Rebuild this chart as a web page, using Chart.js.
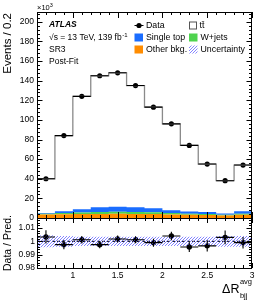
<!DOCTYPE html>
<html>
<head>
<meta charset="utf-8">
<script src="https://cdn.jsdelivr.net/npm/chart.js@4.4.1/dist/chart.umd.min.js"></script>
<style>
  html, body { margin: 0; padding: 0; background: #fff; }
  canvas { display: block; }
</style>
</head>
<body>
<canvas id="chart" width="266" height="300"></canvas>
<script>
// Delta R (avg, bjj) bins, width 0.2
const binEdges = [0.6, 0.8, 1.0, 1.2, 1.4, 1.6, 1.8, 2.0, 2.2, 2.4, 2.6, 2.8, 3.0];

// Events / 0.2, in units of 10^3
const dataCounts = [40, 84, 124, 145, 148, 135, 113, 96, 74, 55, 38, 54];
const dataErr    = [0.2, 0.29, 0.35, 0.38, 0.38, 0.37, 0.34, 0.31, 0.27, 0.23, 0.19, 0.23];
const ttbar      = [35, 77, 115, 134, 136.5, 124, 103, 88, 67.5, 49, 33.5, 47];
const singleTop  = [0.7, 2, 3.5, 5, 5.2, 4.8, 4.2, 2.9, 2.1, 2, 1.1, 2.6];
const wJets      = [0.8, 1.2, 1.5, 1.8, 2, 2, 1.8, 1.5, 1.2, 1, 0.8, 1.2];
const otherBkg   = [3.5, 3.8, 4, 4.2, 4.3, 4.2, 4, 3.6, 3.2, 3, 2.6, 3.2];

// Data / Pred.
const ratio     = [1.0033, 0.9975, 1.0012, 0.9975, 1.0017, 1.0012, 0.999, 1.004, 0.9957, 0.9966, 1.003, 0.999];
const ratioErr  = [0.005, 0.0035, 0.0028, 0.0026, 0.0026, 0.0027, 0.003, 0.0032, 0.0037, 0.0043, 0.0051, 0.0043];
const uncHalf   = [0.0045, 0.004, 0.0035, 0.0035, 0.0035, 0.0035, 0.0035, 0.0035, 0.0035, 0.0035, 0.004, 0.004];

const xTicks      = [1, 1.5, 2, 2.5, 3];
const yMainTicks  = [0, 20, 40, 60, 80, 100, 120, 140, 160, 180, 200];
const yRatioTicks = [0.98, 0.99, 1, 1.01];

const FONT = '"Liberation Sans", Arial, Helvetica, sans-serif';
const C_ORANGE = '#ff8c00';
const C_GREEN = '#4fd34f';
const C_BLUE = '#1a6dff';
const C_HATCH = '#6464ff';

function font(size, style) {
  return (style ? style + ' ' : '') + size + 'px ' + FONT;
}

// step histogram points at the left bin edges (+ closing right edge), drawn with stepped: 'before'
function steps(vals) {
  return binEdges.map((x, i) => ({ x, y: vals[Math.min(i, vals.length - 1)] }));
}

function addArr(a, b) {
  return a.map((v, i) => v + b[i]);
}

const cumOther = otherBkg;
const cumW = addArr(cumOther, wJets);
const cumTop = addArr(cumW, singleTop);
const cumTotal = addArr(cumTop, ttbar);

const centers = dataCounts.map((v, i) => (binEdges[i] + binEdges[i + 1]) / 2);

function makeHatch() {
  const c = document.createElement('canvas');
  c.width = 3; c.height = 3;
  const g = c.getContext('2d');
  g.strokeStyle = C_HATCH;
  g.lineWidth = 0.8;
  g.beginPath();
  g.moveTo(0, 3); g.lineTo(3, 0);
  g.moveTo(-1, 1); g.lineTo(1, -1);
  g.moveTo(2, 4); g.lineTo(4, 2);
  g.stroke();
  return g.createPattern(c, 'repeat');
}
const hatch = makeHatch();

function bkgFill(vals, color, fill) {
  return {
    data: steps(vals), yAxisID: 'y', stepped: 'before', fill,
    backgroundColor: color, borderColor: 'rgba(0,0,0,0)', borderWidth: 1, pointRadius: 0
  };
}

const datasets = [
  bkgFill(cumOther, C_ORANGE, 'origin'),
  bkgFill(cumW, C_GREEN, '-1'),
  bkgFill(cumTop, C_BLUE, '-1'),
  {
    data: steps(cumTotal), yAxisID: 'y', stepped: 'before', fill: false,
    borderColor: '#8a8a8a', borderWidth: 1.3, pointRadius: 0
  },
  {
    data: centers.map((x, i) => ({ x, y: dataCounts[i] })), yAxisID: 'y', showLine: false,
    pointRadius: 2.6, pointBackgroundColor: '#000', pointBorderWidth: 0
  },
  // ratio panel
  {
    data: steps(uncHalf.map(u => 1 - u)), yAxisID: 'yR', stepped: 'before', fill: false,
    borderColor: 'rgba(0,0,0,0)', borderWidth: 1, pointRadius: 0
  },
  {
    data: steps(uncHalf.map(u => 1 + u)), yAxisID: 'yR', stepped: 'before', fill: '-1',
    backgroundColor: hatch, borderColor: 'rgba(0,0,0,0)', borderWidth: 1, pointRadius: 0
  },
  {
    data: [{ x: 0.6, y: 1 }, { x: 3.0, y: 1 }], yAxisID: 'yR', fill: false,
    borderColor: '#000', borderWidth: 1, borderDash: [3, 2], pointRadius: 0
  },
  {
    data: centers.map((x, i) => ({ x, y: ratio[i] })), yAxisID: 'yR', showLine: false,
    pointRadius: 2.7, pointBackgroundColor: '#000', pointBorderWidth: 0
  }
];

// horizontal bin-width bars and vertical error bars for the data
const errorBars = {
  id: 'errorBars',
  afterDatasetsDraw(chart) {
    const { ctx, scales: { x, y, yR } } = chart;
    ctx.save();
    ctx.strokeStyle = '#000';
    ctx.lineWidth = 1.1;
    const draw = (sc, vals, errs) => {
      vals.forEach((v, i) => {
        const x0 = x.getPixelForValue(binEdges[i]);
        const x1 = x.getPixelForValue(binEdges[i + 1]);
        const xc = x.getPixelForValue(centers[i]);
        const py = sc.getPixelForValue(v);
        ctx.beginPath();
        ctx.moveTo(x0, py); ctx.lineTo(x1, py);
        ctx.moveTo(xc, sc.getPixelForValue(v - errs[i]));
        ctx.lineTo(xc, sc.getPixelForValue(v + errs[i]));
        ctx.stroke();
      });
    };
    draw(y, dataCounts, dataErr);
    draw(yR, ratio, ratioErr);
    ctx.restore();
  }
};

function range(from, to, step) {
  const out = [];
  for (let v = from; v <= to + step / 10; v += step) out.push(Math.round(v * 1e6) / 1e6);
  return out;
}

// frame, inside ticks, titles, labels and legend
const decorations = {
  id: 'decorations',
  afterDraw(chart) {
    const { ctx, chartArea: a, scales: { x, y, yR } } = chart;
    ctx.save();
    ctx.strokeStyle = '#000';
    ctx.lineWidth = 1;
    const L = a.left + 0.5, R = Math.round(a.right) - 0.5;

    [y, yR].forEach(p => {
      ctx.strokeRect(L, Math.round(p.top) + 0.5, R - L, Math.round(p.bottom) - Math.round(p.top));
    });

    const yTicks = (sc, majors, minors) => {
      ctx.beginPath();
      minors.forEach(v => {
        const py = Math.round(sc.getPixelForValue(v)) + 0.5;
        const len = majors.some(m => Math.abs(m - v) < 1e-6) ? 5 : 2.5;
        ctx.moveTo(L, py); ctx.lineTo(L + len, py);
        ctx.moveTo(R, py); ctx.lineTo(R - len, py);
      });
      ctx.stroke();
    };
    yTicks(y, yMainTicks, range(0, 208, 4));
    yTicks(yR, yRatioTicks, range(0.98, 1.016, 0.002));

    ctx.beginPath();
    range(0.6, 3.0, 0.1).forEach(v => {
      const px = Math.round(x.getPixelForValue(v)) + 0.5;
      const major = xTicks.some(m => Math.abs(m - v) < 1e-6);
      [y, yR].forEach(p => {
        const len = major ? (p === y ? 6 : 5) : 3;
        ctx.moveTo(px, p.bottom); ctx.lineTo(px, p.bottom - len);
        ctx.moveTo(px, p.top); ctx.lineTo(px, p.top + len);
      });
    });
    ctx.stroke();

    ctx.fillStyle = '#000';
    ctx.textBaseline = 'middle';
    ctx.textAlign = 'left';

    // x10^3
    ctx.font = font(7.5);
    ctx.fillText('\u00d710', 37, 8);
    ctx.font = font(5.5);
    ctx.fillText('3', 37 + ctx.measureText('x').width + 10, 5);

    // ATLAS label block
    ctx.font = font(8.5, 'italic bold');
    ctx.fillText('ATLAS', 49, 25);
    ctx.font = font(8.5);
    const s1 = '\u221as = 13 TeV, 139 fb';
    ctx.fillText(s1, 49, 38);
    const w1 = ctx.measureText(s1).width;
    ctx.font = font(6);
    ctx.fillText('-1', 49 + w1 + 0.5, 35);
    ctx.font = font(8.5);
    ctx.fillText('SR3', 49, 50);
    ctx.fillText('Post-Fit', 49, 62);

    // legend
    const rows = [25.5, 37.5, 49.5];
    const c1 = 134.5, c2 = 189;
    ctx.font = font(8.8);
    // Data
    ctx.beginPath();
    ctx.moveTo(c1, rows[0]); ctx.lineTo(c1 + 9, rows[0]);
    ctx.stroke();
    ctx.beginPath();
    ctx.arc(c1 + 4.5, rows[0], 2.6, 0, Math.PI * 2);
    ctx.fill();
    ctx.fillText('Data', c1 + 11.5, rows[0]);
    // ttbar
    ctx.strokeStyle = '#555';
    ctx.strokeRect(c2 + 0.5, rows[0] - 3.5, 7, 7);
    ctx.fillText('t\u0074\u0304', c2 + 10.5, rows[0]);
    const boxes = [
      [c1, rows[1], C_BLUE, 'Single top'],
      [c2, rows[1], C_GREEN, 'W+jets'],
      [c1, rows[2], C_ORANGE, 'Other bkg.'],
      [c2, rows[2], hatch, 'Uncertainty']
    ];
    boxes.forEach(([bx, by, col, label]) => {
      ctx.fillStyle = col;
      ctx.fillRect(bx, by - 4, 8.5, 8);
      ctx.fillStyle = '#000';
      ctx.fillText(label, bx + 11.5, by);
    });

    // y titles
    ctx.save();
    ctx.translate(8, 13);
    ctx.rotate(-Math.PI / 2);
    ctx.textAlign = 'right';
    ctx.font = font(11.5);
    ctx.fillText('Events / 0.2', 0, 0);
    ctx.restore();

    ctx.save();
    ctx.translate(8, (yR.top + yR.bottom) / 2);
    ctx.rotate(-Math.PI / 2);
    ctx.textAlign = 'center';
    ctx.font = font(10.5);
    ctx.fillText('Data / Pred.', 0, 0);
    ctx.restore();

    // x title: Delta R ^avg _bjj, right aligned to the axis end
    ctx.font = font(7.5);
    const supW = Math.max(ctx.measureText('avg').width, ctx.measureText('bjj').width);
    const xr = Math.round(a.right);
    ctx.textAlign = 'left';
    ctx.fillText('avg', xr - supW, 282);
    ctx.fillText('bjj', xr - supW, 296);
    ctx.textAlign = 'right';
    ctx.font = font(12.5);
    ctx.fillText('\u0394R', xr - supW - 0.5, 290);

    ctx.restore();
  }
};

const tickFont = { family: FONT, size: 8.5 };

new Chart(document.getElementById('chart'), {
  type: 'line',
  data: { datasets },
  options: {
    responsive: false,
    animation: false,
    devicePixelRatio: 1,
    layout: { padding: { top: 12, right: 14, left: 0, bottom: 0 } },
    plugins: { legend: { display: false }, tooltip: { enabled: false } },
    scales: {
      x: {
        type: 'linear', min: 0.6, max: 3.0, position: 'bottom',
        grid: { display: false, drawTicks: false }, border: { display: false },
        afterBuildTicks: s => { s.ticks = xTicks.map(value => ({ value })); },
        afterFit: s => { s.height = 32; },
        ticks: { padding: 3, font: tickFont, color: '#000', autoSkip: false, maxRotation: 0, callback: v => String(v) }
      },
      yR: {
        type: 'linear', position: 'left', stack: 'panels', stackWeight: 50,
        min: 0.98, max: 1.0175,
        grid: { display: false, drawTicks: false }, border: { display: false },
        afterBuildTicks: s => { s.ticks = yRatioTicks.map(value => ({ value })); },
        afterFit: s => { s.width = 37; },
        ticks: { padding: 2, font: tickFont, color: '#000', autoSkip: false, callback: v => String(v) }
      },
      y: {
        type: 'linear', position: 'left', stack: 'panels', stackWeight: 206,
        min: 0, max: 210,
        grid: { display: false, drawTicks: false }, border: { display: false },
        afterBuildTicks: s => { s.ticks = yMainTicks.map(value => ({ value })); },
        afterFit: s => { s.width = 37; },
        ticks: { padding: 3, font: tickFont, color: '#000', autoSkip: false, callback: v => String(v) }
      }
    }
  },
  plugins: [errorBars, decorations]
});
</script>
</body>
</html>
